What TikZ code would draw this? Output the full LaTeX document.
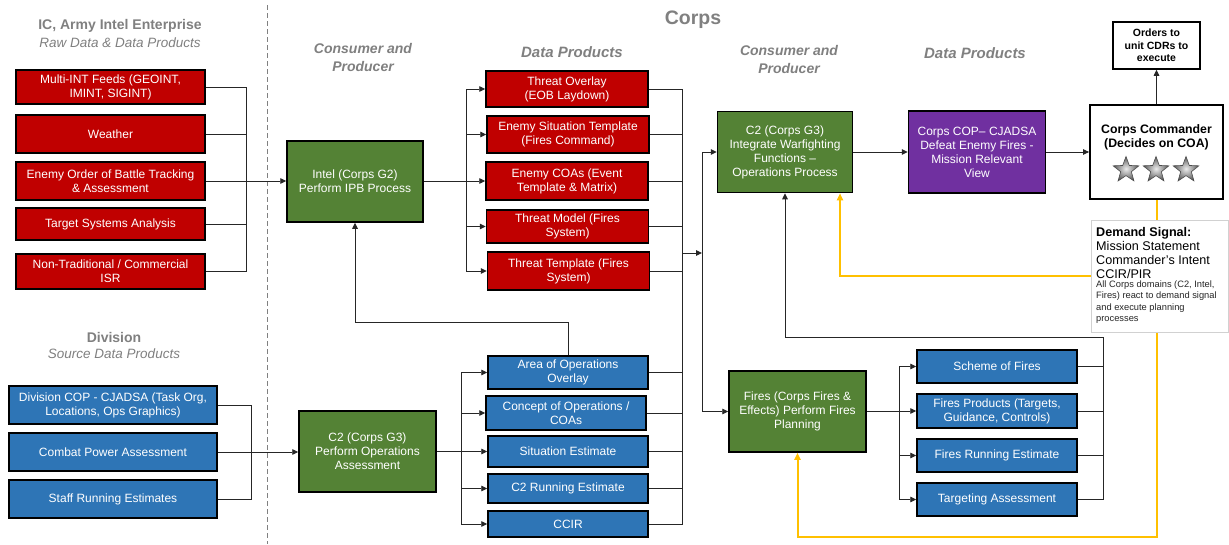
\documentclass[tikz,border=0pt]{standalone}
\usepackage{fontspec}
\setmainfont{Liberation Sans}
\usetikzlibrary{arrows.meta,shapes.geometric}
\definecolor{rbox}{HTML}{C00000}
\definecolor{bbox}{HTML}{2E75B6}
\definecolor{gbox}{HTML}{548235}
\definecolor{pbox}{HTML}{7030A0}
\definecolor{hdr}{HTML}{808080}
\definecolor{ylw}{HTML}{FFC000}
\begin{document}
\begin{tikzpicture}[x=1pt,y=-1pt,
  box/.style={draw=black,line width=1.5pt,text=white,align=center,inner sep=1pt,font=\fontsize{12}{14}\selectfont},
  sz/.style 2 args={minimum width=#1,minimum height=#2},
  redbox/.style={box,fill=rbox},
  bluebox/.style={box,fill=bbox},
  greenbox/.style={box,fill=gbox},
  purplebox/.style={box,fill=pbox},
  whitebox/.style={box,fill=white,text=black},
  conn/.style={draw=black!85,line width=0.9pt},
  arr/.style={conn,-{Triangle[length=6pt,width=5.5pt]}},
  yarr/.style={draw=ylw,line width=2pt,-{Triangle[length=7pt,width=6pt]}},
  hbold/.style={text=hdr,align=center,font=\fontsize{14}{17}\selectfont\bfseries},
  hital/.style={text=hdr,align=center,font=\fontsize{13.5}{16}\selectfont\itshape},
  hbi/.style={text=hdr,align=center,font=\fontsize{14}{18}\selectfont\bfseries\itshape},
  starnode/.style={star,star points=5,star point ratio=2.4,minimum size=27pt,inner sep=0pt,draw=black!70,line width=0.6pt,shading=radial,inner color=gray!15,outer color=gray!70!black}
]
\fill[white] (0,0) rectangle (1229,544);
\useasboundingbox (0,0) rectangle (1229,544);

% dashed separator
\coordinate (dtop) at (267,5);
\coordinate (dbot) at (267,544);
\draw[draw=gray,line width=0.9pt,dash pattern=on 5pt off 3pt] (dtop) -- (dbot);

% headers
\node[hbold] (h1) at (120,26) {IC, Army Intel Enterprise};
\node[hital] (h1s) at (120,43) {Raw Data \& Data Products};
\node[hbold] (h2) at (114,337) {Division};
\node[hital] (h2s) at (114,354) {Source Data Products};
\node[hbi] (h3) at (363,57) {Consumer and\\Producer};
\node[hbi,font=\fontsize{15}{18}\selectfont\bfseries\itshape] (h4) at (572,52) {Data Products};
\node[text=hdr,font=\fontsize{19.5}{22}\selectfont\bfseries] (h5) at (693,20) {Corps};
\node[hbi] (h6) at (789,59) {Consumer and\\Producer};
\node[hbi,font=\fontsize{15}{18}\selectfont\bfseries\itshape] (h7) at (975,53) {Data Products};

% left red boxes
\node[redbox,sz={189pt}{34pt}] (r1) at (110.5,87) {Multi-INT Feeds (GEOINT,\\IMINT, SIGINT)};
\node[redbox,sz={189pt}{38pt}] (r2) at (110.5,134) {Weather};
\node[redbox,sz={189pt}{38pt}] (r3) at (110.5,181) {Enemy Order of Battle Tracking\\\& Assessment};
\node[redbox,sz={189pt}{32pt}] (r4) at (110.5,224) {Target Systems Analysis};
\node[redbox,sz={189pt}{35pt}] (r5) at (110.5,271.5) {Non-Traditional / Commercial\\ISR};

% intel
\node[greenbox,sz={136pt}{81pt}] (intel) at (355,181.5) {Intel (Corps G2)\\Perform IPB Process};

% data products red
\node[redbox,sz={162pt}{36pt}] (d1) at (567,89) {Threat Overlay\\(EOB Laydown)};
\node[redbox,sz={162pt}{37pt}] (d2) at (568,134.5) {Enemy Situation Template\\(Fires Command)};
\node[redbox,sz={162pt}{38pt}] (d3) at (567,181) {Enemy COAs (Event\\Template \& Matrix)};
\node[redbox,sz={162pt}{33pt}] (d4) at (567.5,226.5) {Threat Model (Fires\\System)};
\node[redbox,sz={162pt}{38pt}] (d5) at (568.5,271) {Threat Template (Fires\\System)};

% division blue
\node[bluebox,sz={208pt}{38pt}] (v1) at (113,405) {Division COP - CJADSA (Task Org,\\Locations, Ops Graphics)};
\node[bluebox,sz={208pt}{38pt}] (v2) at (113,452) {Combat Power Assessment};
\node[bluebox,sz={208pt}{38pt}] (v3) at (113,499) {Staff Running Estimates};

% C2 ops
\node[greenbox,sz={137pt}{81pt}] (c2o) at (367.5,451.5) {C2 (Corps G3)\\Perform Operations\\Assessment};

% ops blue
\node[bluebox,sz={160pt}{33pt}] (b1) at (568,372.5) {Area of Operations\\Overlay};
\node[bluebox,sz={160pt}{34pt}] (b2) at (566,413) {Concept of Operations /\\COAs};
\node[bluebox,sz={160pt}{31pt}] (b3) at (568,451.5) {Situation Estimate};
\node[bluebox,sz={160pt}{29pt}] (b4) at (568,488.5) {C2 Running Estimate};
\node[bluebox,sz={160pt}{26pt}] (b5) at (568,524) {CCIR};

% corps right part
\node[greenbox,sz={135pt}{81pt}] (c2i) at (785,152) {C2 (Corps G3)\\Integrate Warfighting\\Functions --\\Operations Process};
\node[purplebox,sz={137pt}{82pt}] (pur) at (977,152) {Corps COP-- CJADSA\\Defeat Enemy Fires -\\Mission Relevant\\View};
\node[whitebox,sz={133pt}{94pt},line width=1.8pt] (cmd) at (1156.5,152) {};
\node[text=black,align=center,font=\fontsize{12.3}{13.5}\selectfont\bfseries] (cmdt) at (1156.5,137.5) {Corps Commander\\(Decides on COA)};
\node[starnode] (s1) at (1126,170) {};
\node[starnode] (s2) at (1156,170) {};
\node[starnode] (s3) at (1186,170) {};
\node[whitebox,sz={87pt}{47pt},line width=1.5pt,font=\fontsize{10.5}{12.6}\selectfont\bfseries] (ord) at (1156.5,45.5) {Orders to\\unit CDRs to\\execute};

\node[greenbox,sz={137pt}{81pt}] (fires) at (797.5,411.5) {Fires (Corps Fires \&\\Effects) Perform Fires\\Planning};
\node[bluebox,sz={160pt}{33pt}] (f1) at (997,366.5) {Scheme of Fires};
\node[bluebox,sz={160pt}{34pt}] (f2) at (997,411) {Fires Products (Targets,\\Guidance, Controls)};
\node[bluebox,sz={160pt}{33pt}] (f3) at (997,455.5) {Fires Running Estimate};
\node[bluebox,sz={160pt}{33pt}] (f4) at (997,499.5) {Targeting Assessment};

% ---- connectors ----
% left intel bus
\coordinate (lb) at (246,0);
\draw[conn] (r1.east) -- (r1.east -| lb) -- (r5.east -| lb) -- (r5.east);
\draw[conn] (r2.east) -- (r2.east -| lb);
\draw[conn] (r4.east) -- (r4.east -| lb);
\draw[arr] (r3.east) -- (r3.east -| intel.west);

% intel -> data products
\coordinate (db) at (466,0);
\draw[conn] (intel.east) -- (intel.east -| db);
\draw[conn] (d1.west -| db) -- (d5.west -| db);
\foreach \n in {d1,d2,d3,d4,d5} {\draw[arr] (\n.west -| db) -- (\n.west);}

% division bus
\coordinate (vb) at (251,0);
\draw[conn] (v1.east) -- (v1.east -| vb) -- (v3.east -| vb) -- (v3.east);
\draw[arr] (v2.east) -- (v2.east -| c2o.west);

% c2 ops -> blue
\coordinate (ob) at (461,0);
\draw[conn] (c2o.east) -- (c2o.east -| ob);
\draw[conn] (b1.west -| ob) -- (b5.west -| ob);
\foreach \n in {b1,b2,b3,b4,b5} {\draw[arr] (\n.west -| ob) -- (\n.west);}

% feedback AO overlay -> intel
\coordinate (fbc) at (355,322);
\draw[arr] (b1.north) |- (fbc) -- (intel.south);

% right collector bus
\coordinate (rb) at (682,0);
\draw[conn] (d1.east) -- (d1.east -| rb) -- (b5.east -| rb) -- (b5.east);
\foreach \n in {d2,d3,d4,d5,b1,b2,b3,b4} {\draw[conn] (\n.east) -- (\n.east -| rb);}
\coordinate (jn) at (682,253);
\coordinate (jb) at (702,253);
\draw[arr] (jn) -- (jb);
\draw[arr] (jb) |- (c2i.west);
\draw[arr] (jb) |- (fires.west);

% c2i -> purple -> commander -> orders
\draw[arr] (c2i.east) -- (pur.west);
\draw[arr] (pur.east) -- (cmd.west);
\draw[arr] (cmd.north) -- (ord.south);

% fires products
\coordinate (fl) at (899,0);
\draw[conn] (fires.east) -- (fires.east -| fl);
\draw[conn] (f1.west -| fl) -- (f4.west -| fl);
\foreach \n in {f1,f2,f3,f4} {\draw[arr] (\n.west -| fl) -- (\n.west);}
\coordinate (fr) at (1103,337);
\coordinate (fu) at (785,337);
\draw[arr] (f4.east) -| (fr) -- (fu) -- (fu |- c2i.south);
\foreach \n in {f1,f2,f3} {\draw[conn] (\n.east) -- (\n.east -| fr);}

% yellow demand signal
\coordinate (yb) at (1156.5,537);
\coordinate (yc) at (1156.5,276);
\coordinate (yt) at (840,0);
\draw[yarr] (cmd.south) -- (yb) -| (fires.south);
\draw[yarr] (yc) -| (yt |- c2i.south);

% demand signal box
\node[draw=black!18,fill=white,line width=0.8pt,anchor=north west,minimum width=137pt,minimum height=112pt] (dem) at (1091,220) {};
\node[anchor=north west,align=left,inner sep=0pt,font=\fontsize{12.6}{14.2}\selectfont] (dt1) at (1096,227) {\textbf{Demand Signal:}\\Mission Statement\\Commander’s Intent\\CCIR/PIR};
\node[anchor=north west,align=left,inner sep=0pt,font=\fontsize{9.3}{11.6}\selectfont,text=black!85] (dt2) at ([yshift=-1pt]dt1.south west) {All Corps domains (C2, Intel,\\Fires) react to demand signal\\and execute planning\\processes};
\end{tikzpicture}
\end{document}
